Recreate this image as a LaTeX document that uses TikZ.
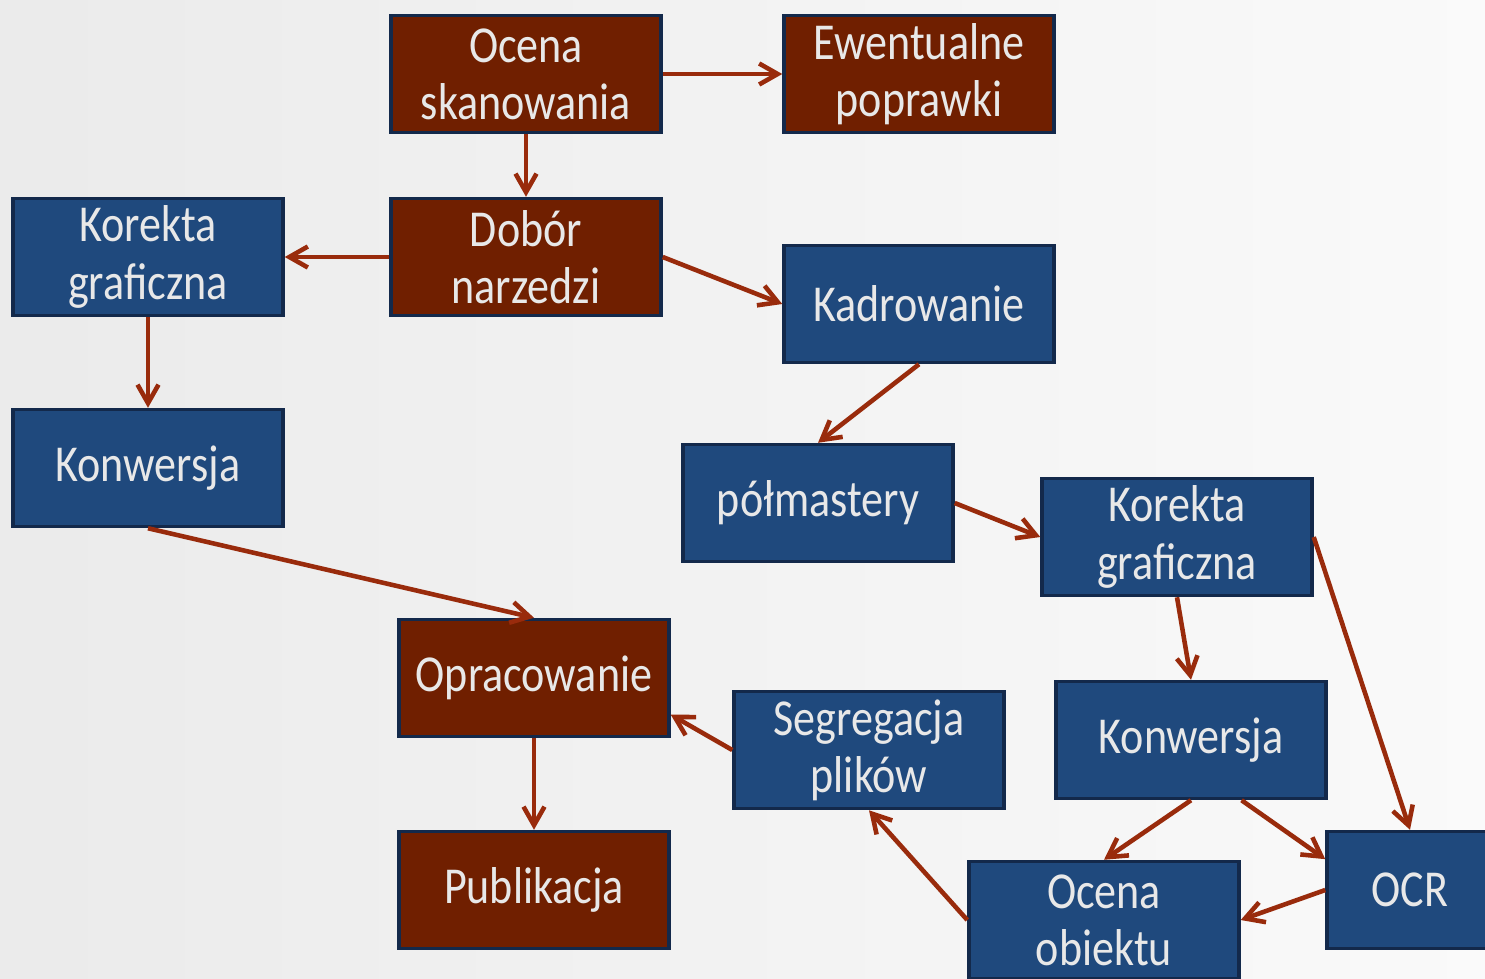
\documentclass[tikz,border=0pt]{standalone}
\usepackage{fontspec}
\setmainfont[FakeStretch=0.85]{Carlito}
\usetikzlibrary{arrows.meta}
\definecolor{brick}{HTML}{701F00}
\definecolor{steel}{HTML}{1F497D}
\definecolor{edge}{HTML}{13294B}
\definecolor{arrowred}{HTML}{992B0C}
\definecolor{txt}{HTML}{E8E8E8}
\begin{document}
\begin{tikzpicture}[x=0.02cm,y=-0.02cm]
  \tikzset{ box/.style={draw=edge,line width=2pt,text=txt,align=center,inner sep=0pt,
      minimum width=5.4cm,minimum height=2.34cm,font=\fontsize{29.5}{32.5}\selectfont},
    br/.style={box,fill=brick}, bl/.style={box,fill=steel},
    ar/.style={draw=arrowred,line width=2.6pt,-{Straight Barb[length=0.37cm,width=0.42cm]}},
  }
  % the background
  \clip (0,0) rectangle (1485,978);
  \shade[left color=black!8,right color=black!2] (0,0) rectangle (1485,978);
  % the boxes
  \node[br] (oskan) at (526, 74) {Ocena\\skanowania};
  \node[br] (popr) at (919, 74) {Ewentualne\\poprawki};
  \node[br] (dobor) at (526, 257) {Dobór\\narzedzi};
  \node[bl] (korL) at (148, 257) {Korekta\\graficzna};
  \node[bl] (kadr) at (919, 304) {Kadrowanie};
  \node[bl] (konL) at (148, 468) {Konwersja};
  \node[bl] (polm) at (818, 503) {półmastery};
  \node[bl] (korR) at (1177, 537) {Korekta\\graficzna};
  \node[br] (opr) at (534, 678) {Opracowanie};
  \node[bl] (segr) at (869, 750) {Segregacja\\plików};
  \node[bl] (konR) at (1191, 740) {Konwersja};
  \node[br] (publ) at (534, 890) {Publikacja};
  \node[bl,minimum width=3.32cm] (ocr) at (1410, 890) {OCR};
  \node[bl] (oobj) at (1104, 920) {Ocena\\obiektu};
  % the arrows
  \draw[ar] (oskan) -- (popr);
  \draw[ar] (oskan) -- (dobor);
  \draw[ar] (dobor) -- (korL);
  \draw[ar] (dobor.east) -- (kadr.west);
  \draw[ar] (korL) -- (konL);
  \draw[ar] (kadr.south) -- (polm.north);
  \draw[ar] (polm.east) -- (korR.west);
  \draw[ar] (konL.south) -- (opr.north);
  \draw[ar] (korR.south) -- (konR.north);
  \draw[ar] (korR.east) -- (ocr.north);
  \draw[ar] (konR.south) -- (oobj.north);
  \draw[ar] (konR.-50) -- (ocr.160);
  \draw[ar] (ocr.west) -- (oobj.east);
  \draw[ar] (oobj.west) -- (segr.south);
  \draw[ar] (segr.west) -- (opr.-15);
  \draw[ar] (opr) -- (publ);
\end{tikzpicture}
\end{document}
